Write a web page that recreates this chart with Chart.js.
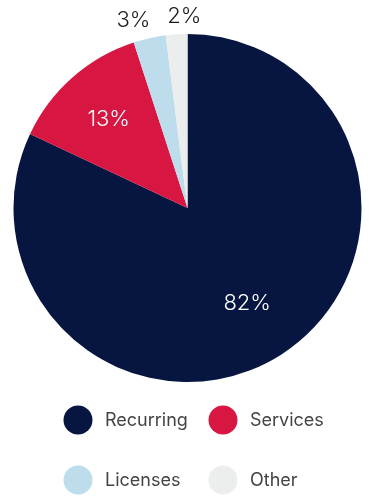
<!DOCTYPE html>
<html>
<head>
<meta charset="utf-8">
<script src="https://cdn.jsdelivr.net/npm/chart.js@4.4.1/dist/chart.umd.min.js"></script>
<style>
html,body{margin:0;padding:0;background:#fff;}
#wrap{width:371px;height:497px;position:relative;}
</style>
</head>
<body>
<div id="wrap"><canvas id="c" width="371" height="497"></canvas></div>
<script>
const categories = ["Recurring", "Services", "Licenses", "Other"];
const shares = [82, 13, 3, 2];
const valueLabels = ["82%", "13%", "3%", "2%"];
const sliceColors = ["#061640", "#d81642", "#bddcec", "#eceeee"];

// label placement: radial factor (of radius), x nudge, colour
const labelRadial = [0.64, 0.685, 1.11, 1.11];
const labelNudgeX = [0, 0, -12, 9];
const labelColors = ["#ffffff", "#ffffff", "#1a1a1a", "#1a1a1a"];

const sliceLabels = {
  id: "sliceLabels",
  afterDatasetsDraw(chart) {
    const ctx = chart.ctx;
    const meta = chart.getDatasetMeta(0);
    ctx.save();
    ctx.font = "300 22px Inter";
    ctx.textAlign = "center";
    ctx.textBaseline = "middle";
    meta.data.forEach((arc, i) => {
      const p = arc.getProps(["x", "y", "startAngle", "endAngle", "outerRadius"], true);
      const mid = (p.startAngle + p.endAngle) / 2;
      const r = p.outerRadius * labelRadial[i];
      const x = p.x + Math.cos(mid) * r + labelNudgeX[i];
      const y = p.y + Math.sin(mid) * r;
      ctx.fillStyle = labelColors[i];
      ctx.fillText(valueLabels[i], x, y + 1);
    });
    ctx.restore();
  }
};

const gridLegend = {
  id: "gridLegend",
  afterDraw(chart) {
    const ctx = chart.ctx;
    const cols = [78, 223];
    const rows = [420, 480];
    ctx.save();
    ctx.font = "400 18px Inter";
    ctx.textAlign = "left";
    ctx.textBaseline = "middle";
    categories.forEach((name, i) => {
      const cx = cols[i % 2];
      const cy = rows[Math.floor(i / 2)];
      ctx.beginPath();
      ctx.arc(cx, cy, 14.5, 0, Math.PI * 2);
      ctx.fillStyle = sliceColors[i];
      ctx.fill();
      ctx.fillStyle = "#444444";
      ctx.fillText(name, cx + 27, cy + 1);
    });
    ctx.restore();
  }
};

new Chart(document.getElementById("c"), {
  type: "pie",
  data: {
    labels: categories,
    datasets: [{
      data: shares,
      backgroundColor: sliceColors,
      borderWidth: 0
    }]
  },
  options: {
    responsive: false,
    animation: false,
    layout: { padding: { top: 34, left: 13, right: 9, bottom: 115 } },
    plugins: {
      legend: { display: false },
      tooltip: { enabled: false }
    }
  },
  plugins: [sliceLabels, gridLegend]
});
</script>
</body>
</html>
